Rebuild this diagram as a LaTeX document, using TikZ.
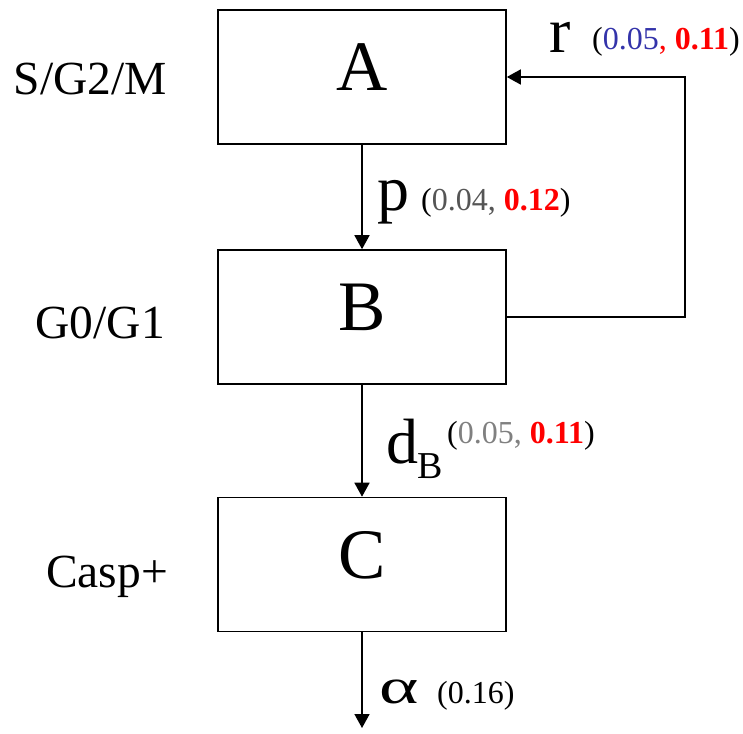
\documentclass[tikz,border=0pt]{standalone}
\usepackage{fontspec}
\setmainfont{Liberation Serif}
\usetikzlibrary{arrows.meta}
\definecolor{rblue}{RGB}{51,51,170}
\definecolor{dgray}{RGB}{85,85,85}
\definecolor{lgray}{RGB}{128,128,128}
\definecolor{rred}{RGB}{255,0,0}
\newcommand{\fs}[1]{\fontsize{#1}{#1}\selectfont}
\tikzset{
  box/.style={draw, line width=1.6pt, minimum width=288pt, minimum height=134pt, inner sep=0pt, font=\fs{71}, text height=47pt, text depth=20pt},
  conn/.style={line width=1.6pt, -{Triangle[width=15pt,length=14pt]}},
  lab/.style={anchor=base west, inner sep=0pt},
  side/.style={anchor=base east, inner sep=0pt, font=\fs{47.5}},
  big/.style={lab, font=\fs{64}},
  small/.style={lab, font=\fs{32}}
}
\begin{document}
\begin{tikzpicture}[x=1pt,y=-1pt]
\useasboundingbox (0,0) rectangle (743,733);
\node[box] (A) at (362,77) {A};
\node[box] (B) at (362,317) {B};
\node[box] (C) at (362,564.5) {C};
\coordinate (end) at (362,728);
\coordinate (fr1) at (685,317);
\coordinate (fr2) at (685,77);
\draw[conn] (A.south) -- (B.north);
\draw[conn] (B.south) -- (C.north);
\draw[conn] (C.south) -- (end);
\draw[conn] (B.east) -- (fr1) -- (fr2) -- (A.east);
\node[side] (l1) at (167,95) {S/G2/M};
\node[side] (l2) at (165,338) {G0/G1};
\node[side] (l3) at (168,587) {Casp+};
\node[big] (r) at (549,53) {r};
\node[small] (rv) at (592,50) {(\textcolor{rblue}{0.05}\textcolor{rred}{, \textbf{0.11}})};
\node[big] (p) at (377,210) {p};
\node[small] (pv) at (421,210) {(\textcolor{dgray}{0.04, }\textcolor{rred}{\textbf{0.12}})};
\node[big] (d) at (386,463) {d};
\node[lab, font=\fs{38}] (dsub) at (417,478) {B};
\node[small] (dv) at (447,443) {(\textcolor{lgray}{0.05, }\textcolor{rred}{\textbf{0.11}})};
\node[lab, font=\fs{50}] (al) at (379,703) {\scalebox{1.5}[1]{α}};
\node[small] (av) at (437,703) {(0.16)};
\end{tikzpicture}
\end{document}
